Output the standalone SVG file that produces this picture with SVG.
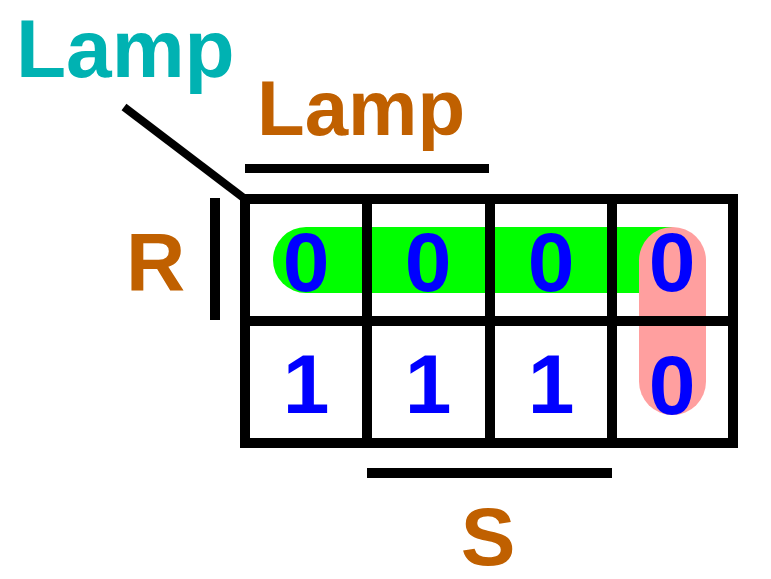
<svg xmlns="http://www.w3.org/2000/svg" width="771" height="579" viewBox="0 0 771 579">
<style>
.lbl{font-family:"Liberation Sans",Arial,sans-serif;font-weight:bold}
.or{fill:#c06000}
.dg{font-family:"Liberation Sans",Arial,sans-serif;font-weight:bold;font-size:84px;fill:#0000ff;text-anchor:middle}
.ln{stroke:#000;stroke-width:10;fill:none}
</style>
<rect width="771" height="579" fill="#fff"/>
<g id="labels">
<text id="lamp-teal" class="lbl" x="16" y="77" font-size="82" fill="#00b2b2">Lamp</text>
<text id="lamp-orange" class="lbl or" x="257" y="135" font-size="78">Lamp</text>
<text id="R" class="lbl or" x="126" y="290" font-size="82">R</text>
<text id="S" class="lbl or" x="488" y="565" font-size="82" text-anchor="middle">S</text>
</g>
<g id="groups">
<path id="green-group" d="M306 227 H673 V293 H306 A33 33 0 0 1 306 227 Z" fill="#00ff00"/>
<rect id="pink-group" x="639" y="227" width="67" height="188" rx="33.5" ry="33.5" fill="#ff9f9f"/>
</g>
<g id="connectors">
<line x1="124" y1="107" x2="245" y2="199" stroke="#000" stroke-width="8"/>
<line x1="245" y1="168.5" x2="489" y2="168.5" stroke="#000" stroke-width="9"/>
<line x1="215" y1="198" x2="215" y2="320" stroke="#000" stroke-width="10"/>
<line x1="367" y1="473" x2="612" y2="473" stroke="#000" stroke-width="10"/>
</g>
<g id="grid">
<rect class="ln" x="245" y="199" width="488" height="244"/>
<line class="ln" x1="367" y1="199" x2="367" y2="443"/>
<line class="ln" x1="490" y1="199" x2="490" y2="443"/>
<line class="ln" x1="612" y1="199" x2="612" y2="443"/>
<line class="ln" x1="245" y1="321" x2="733" y2="321"/>
</g>
<g id="cells">
<text class="dg" x="306" y="291">0</text>
<text class="dg" x="428" y="291">0</text>
<text class="dg" x="551" y="291">0</text>
<text class="dg" x="672" y="291">0</text>
<text class="dg" x="306" y="413">1</text>
<text class="dg" x="428" y="413">1</text>
<text class="dg" x="551" y="413">1</text>
<text class="dg" x="672" y="414">0</text>
</g>
</svg>
